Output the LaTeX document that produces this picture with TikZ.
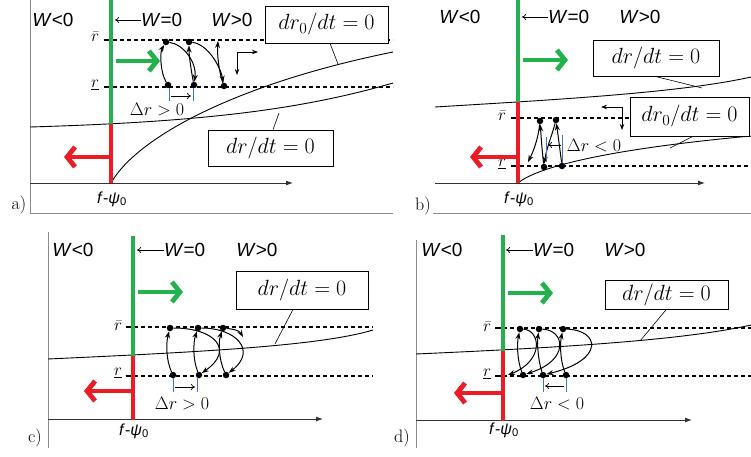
\RequirePackage{fix-cm}
\documentclass[tikz,border=0pt]{standalone}
\usepackage{fontspec}
\setsansfont{Liberation Sans}
\usetikzlibrary{arrows.meta}
\definecolor{grn}{RGB}{34,177,76}
\definecolor{rd}{RGB}{237,28,36}
\definecolor{blu}{RGB}{68,114,196}
\definecolor{frm}{RGB}{140,140,140}
\begin{document}
\begin{tikzpicture}[x=1pt,y=-1pt,
  frame/.style={draw=frm,line width=0.8pt},
  axis/.style={draw=black!80,line width=0.9pt,-{Latex[length=7pt,width=5pt]}},
  gline/.style={draw=grn,line width=4.2pt},
  rline/.style={draw=rd,line width=4.2pt},
  garr/.style={draw=grn,line width=4.8pt,-{Straight Barb[length=8pt,width=20pt]}},
  rarr/.style={draw=rd,line width=4.8pt,-{Straight Barb[length=8pt,width=20pt]}},
  dline/.style={draw=black,line width=1.1pt,dash pattern=on 4pt off 3pt},
  tick/.style={draw=black,line width=1.8pt},
  curve/.style={draw=black,line width=0.9pt},
  lead/.style={draw=black,line width=0.6pt},
  traj/.style={draw=black,line width=1pt,-{Stealth[length=7pt,width=5pt]}},
  thinarr/.style={draw=black,line width=0.7pt,-{To[length=4pt,width=6pt]}},
  corner/.style={draw=black,line width=0.8pt,-{Stealth[length=6pt,width=4.5pt]}},
  bluetk/.style={draw=blu,line width=1pt},
  dotn/.style={circle,fill=black,inner sep=0pt,minimum size=6.5pt},
  wlab/.style={font=\sffamily\fontsize{19}{20}\selectfont,inner sep=0pt},
  mbox/.style={draw=black,line width=0.7pt,fill=white,font=\fontsize{22}{24}\selectfont,inner sep=0pt},
  dlab/.style={font=\fontsize{18}{20}\selectfont,inner sep=0pt},
  rlab/.style={font=\fontsize{17}{18}\selectfont,inner sep=0pt},
  flab/.style={font=\sffamily\fontsize{16}{18}\selectfont,inner sep=0pt},
  plab/.style={font=\fontsize{18}{20}\selectfont,inner sep=0pt}]
\path[use as bounding box] (0,0) rectangle (751,457);

% ================= panel a =================
\coordinate (aF1) at (30,0); \coordinate (aF2) at (30,213); \coordinate (aF3) at (393,213);
\draw[frame] (aF1) -- (aF2) -- (aF3);
\coordinate (aAx1) at (30,183); \coordinate (aAx2) at (293,183);
\draw[axis] (aAx1) -- (aAx2);
\coordinate (aT1) at (104,40); \coordinate (aT2) at (113,40); \coordinate (aT3) at (393,40);
\coordinate (aB1) at (104,87); \coordinate (aB2) at (113,87); \coordinate (aB3) at (393,87);
\draw[dline] (aT2) -- (aT3);
\draw[dline] (aB2) -- (aB3);
\draw[tick] (aT1) -- (aT2);
\draw[tick] (aB1) -- (aB2);
\node[rlab] (aRb) at (95,37) {$\bar r$};
\node[rlab] (aRu) at (95,85) {$\underline{r}$};
\coordinate (aC1) at (30,127); \coordinate (aC2) at (393,83);
\draw[curve] (aC1) .. controls (200,122) and (300,110) .. (aC2);
\coordinate (aO) at (111,183); \coordinate (aD2) at (393,52);
\draw[curve] (aO) .. controls (135,140) and (230,85) .. (aD2);
\coordinate (aG0) at (111,0); \coordinate (aG1) at (111,124);
\draw[gline] (aG0) -- (aG1);
\draw[rline] (aG1) -- (aO);
\coordinate (aGa1) at (116,61); \coordinate (aGa2) at (160,61);
\draw[garr] (aGa1) -- (aGa2);
\coordinate (aRa1) at (109,157); \coordinate (aRa2) at (64,157);
\draw[rarr] (aRa1) -- (aRa2);
\node[wlab] (aWn) at (53,20) {\textit{W}<0};
\node[wlab,anchor=west] (aWz) at (141,20) {\textit{W}=0};
\coordinate (aWa) at (115,20);
\draw[thinarr] (aWz.west) -- (aWa);
\node[wlab] (aWp) at (232,20) {\textit{W}>0};
\node[mbox,minimum width=123pt,minimum height=37pt] (aBox0) at (326.5,24.5) {$dr_0/dt = 0$};
\node[mbox,minimum width=125pt,minimum height=36pt] (aBox1) at (270.5,148) {$dr/dt = 0$};
\coordinate (aL0) at (338,64); \coordinate (aL1) at (279,113);
\draw[lead] (aBox0.south -| 330,0) -- (aL0);
\draw[lead] (aBox1.north -| 273,0) -- (aL1);
\node[dotn] (aA1) at (168,85) {}; \node[dotn] (aU1) at (166,42) {};
\node[dotn] (aA2) at (194,85) {}; \node[dotn] (aU2) at (189,42) {};
\node[dotn] (aA3) at (224,86) {};
\coordinate (aE) at (218,41);
\draw[traj] (aA1) .. controls (160,72) and (160,52) .. (aU1);
\draw[traj] (aU1) .. controls (183,44) and (197,62) .. (aA2);
\draw[traj] (aA2) .. controls (191,70) and (189,55) .. (aU2);
\draw[traj] (aU2) .. controls (207,44) and (220,65) .. (aA3);
\draw[traj] (aA3) .. controls (219,72) and (217,55) .. (aE);
\coordinate (aq1) at (169,88); \coordinate (aq2) at (169,101);
\coordinate (aq3) at (193,88); \coordinate (aq4) at (193,101);
\draw[bluetk] (aq1) -- (aq2); \draw[bluetk] (aq3) -- (aq4);
\coordinate (aqa) at (171,96); \coordinate (aqb) at (191,96);
\draw[thinarr] (aqa) -- (aqb);
\node[dlab] (aDr) at (157,110) {$\Delta r > 0$};
\coordinate (aK) at (237,52); \coordinate (aK1) at (237,75); \coordinate (aK2) at (258,52);
\draw[corner] (aK) -- (aK1); \draw[corner] (aK) -- (aK2);
\node[flab] (aF) at (112,199) {\textit{f}-\textit{ψ}\textsubscript{0}};
\node[plab] (aP) at (19,205) {a)};

% ================= panel b =================
\coordinate (bF1) at (433,213); \coordinate (bF2) at (751,213);
\draw[frame] (bF1) -- (bF2);
\coordinate (bAx1) at (435,183); \coordinate (bAx2) at (705,183);
\draw[axis] (bAx1) -- (bAx2);
\coordinate (bT1) at (511,118); \coordinate (bT2) at (520,118); \coordinate (bT3) at (630,118);
\coordinate (bB1) at (511,166); \coordinate (bB2) at (520,166); \coordinate (bB3) at (751,166);
\draw[dline] (bT2) -- (bT3);
\draw[dline] (bB2) -- (bB3);
\draw[tick] (bT1) -- (bT2);
\draw[tick] (bB1) -- (bB2);
\node[rlab] (bRb) at (502,116) {$\bar r$};
\node[rlab] (bRu) at (502,164) {$\underline{r}$};
\coordinate (bC1) at (435,107); \coordinate (bC2) at (751,77);
\draw[curve] (bC1) .. controls (550,100) and (680,93) .. (bC2);
\coordinate (bO) at (518,183); \coordinate (bD2) at (751,136);
\draw[curve] (bO) .. controls (540,165) and (620,148) .. (bD2);
\coordinate (bG0) at (518,0); \coordinate (bG1) at (518,102);
\draw[gline] (bG0) -- (bG1);
\draw[rline] (bG1) -- (bO);
\coordinate (bGa1) at (523,60); \coordinate (bGa2) at (568,60);
\draw[garr] (bGa1) -- (bGa2);
\coordinate (bRa1) at (516,157); \coordinate (bRa2) at (470,157);
\draw[rarr] (bRa1) -- (bRa2);
\node[wlab] (bWn) at (460,17) {\textit{W}<0};
\node[wlab,anchor=west] (bWz) at (548,17) {\textit{W}=0};
\coordinate (bWa) at (522,17);
\draw[thinarr] (bWz.west) -- (bWa);
\node[wlab] (bWp) at (640,17) {\textit{W}>0};
\node[mbox,minimum width=126pt,minimum height=36pt] (bBox1) at (656,58) {$dr/dt = 0$};
\node[mbox,minimum width=119pt,minimum height=39pt] (bBox0) at (689.5,116.5) {$dr_0/dt = 0$};
\coordinate (bL1) at (702,88); \coordinate (bL0) at (670,148);
\draw[lead] (bBox1.south -| 655,0) -- (bL1);
\draw[lead] (bBox0.south -| 693,0) -- (bL0);
\node[dotn] (bA1) at (544,167) {}; \node[dotn] (bA2) at (562,166) {};
\node[dotn] (bU1) at (540,121) {}; \node[dotn] (bU2) at (556,120) {};
\coordinate (bE) at (528,162);
\draw[traj] (bA2) .. controls (560,150) and (558,135) .. (bU2);
\draw[traj] (bU2) .. controls (552,135) and (546,150) .. (bA1);
\draw[traj] (bA1) .. controls (542,150) and (541,135) .. (bU1);
\draw[traj] (bU1) .. controls (538,140) and (533,152) .. (bE);
\coordinate (bq1) at (546,137); \coordinate (bq2) at (546,162);
\coordinate (bq3) at (562,135); \coordinate (bq4) at (562,163);
\draw[bluetk] (bq1) -- (bq2); \draw[bluetk] (bq3) -- (bq4);
\coordinate (bqa) at (561,145); \coordinate (bqb) at (548,145);
\draw[thinarr] (bqa) -- (bqb);
\node[dlab] (bDr) at (594,146) {$\Delta r < 0$};
\coordinate (bK) at (622,107); \coordinate (bK1) at (622,130); \coordinate (bK2) at (601,107);
\draw[corner] (bK) -- (bK1); \draw[corner] (bK) -- (bK2);
\node[flab] (bF) at (519,199) {\textit{f}-\textit{ψ}\textsubscript{0}};
\node[plab] (bP) at (423,206) {b)};

% ================= panel c =================
\coordinate (cF1) at (48,232); \coordinate (cF2) at (48,448);
\draw[frame] (cF1) -- (cF2);
\coordinate (cAx1) at (48,419); \coordinate (cAx2) at (323,419);
\draw[axis] (cAx1) -- (cAx2);
\coordinate (cT1) at (126,327); \coordinate (cT2) at (134,327); \coordinate (cT3) at (373,327);
\coordinate (cB1) at (126,376); \coordinate (cB2) at (134,376); \coordinate (cB3) at (373,376);
\draw[dline] (cT2) -- (cT3);
\draw[dline] (cB2) -- (cB3);
\draw[tick] (cT1) -- (cT2);
\draw[tick] (cB1) -- (cB2);
\node[rlab] (cRb) at (118,326) {$\bar r$};
\node[rlab] (cRu) at (118,373) {$\underline{r}$};
\coordinate (cC1) at (48,359); \coordinate (cC2) at (373,330);
\draw[curve] (cC1) .. controls (200,352) and (320,346) .. (cC2);
\coordinate (cO) at (133,420); \coordinate (cG0) at (133,236); \coordinate (cG1) at (133,356);
\draw[gline] (cG0) -- (cG1);
\draw[rline] (cG1) -- (cO);
\coordinate (cGa1) at (138,292); \coordinate (cGa2) at (183,292);
\draw[garr] (cGa1) -- (cGa2);
\coordinate (cRa1) at (131,391); \coordinate (cRa2) at (84,391);
\draw[rarr] (cRa1) -- (cRa2);
\node[wlab] (cWn) at (73,250) {\textit{W}<0};
\node[wlab,anchor=west] (cWz) at (164,250) {\textit{W}=0};
\coordinate (cWa) at (137,250);
\draw[thinarr] (cWz.west) -- (cWa);
\node[wlab] (cWp) at (257,250) {\textit{W}>0};
\node[mbox,minimum width=132pt,minimum height=38pt] (cBox1) at (302,290) {$dr/dt = 0$};
\coordinate (cL1) at (275,344);
\draw[lead] (cBox1.south -| 293,0) -- (cL1);
\node[dotn] (cU1) at (170,328) {}; \node[dotn] (cU2) at (198,328) {}; \node[dotn] (cU3) at (223,328) {};
\node[dotn] (cA1) at (173,375) {}; \node[dotn] (cA2) at (199,375) {}; \node[dotn] (cA3) at (226,375) {};
\coordinate (cE) at (243,337);
\draw[traj] (cA1) .. controls (166,360) and (166,343) .. (cU1);
\draw[traj] (cU1) .. controls (215,328) and (235,350) .. (cA2);
\draw[traj] (cA2) .. controls (193,360) and (193,343) .. (cU2);
\draw[traj] (cU2) .. controls (235,328) and (258,350) .. (cA3);
\draw[traj] (cA3) .. controls (219,360) and (218,343) .. (cU3);
\draw[traj] (cU3) .. controls (232,329) and (239,330) .. (cE);
\coordinate (cq1) at (173,378); \coordinate (cq2) at (173,392);
\coordinate (cq3) at (197,378); \coordinate (cq4) at (197,392);
\draw[bluetk] (cq1) -- (cq2); \draw[bluetk] (cq3) -- (cq4);
\coordinate (cqa) at (175,387); \coordinate (cqb) at (195,387);
\draw[thinarr] (cqa) -- (cqb);
\node[dlab] (cDr) at (182,404) {$\Delta r > 0$};
\node[flab] (cF) at (134,431) {\textit{f}-\textit{ψ}\textsubscript{0}};
\node[plab] (cP) at (35,438) {c)};

% ================= panel d =================
\coordinate (dF1) at (416,240); \coordinate (dF2) at (416,448);
\draw[frame] (dF1) -- (dF2);
\coordinate (dAx1) at (416,420); \coordinate (dAx2) at (692,420);
\draw[axis] (dAx1) -- (dAx2);
\coordinate (dT1) at (495,328); \coordinate (dT2) at (503,328); \coordinate (dT3) at (751,328);
\coordinate (dB1) at (495,376); \coordinate (dB2) at (503,376); \coordinate (dB3) at (751,376);
\draw[dline] (dT2) -- (dT3);
\draw[dline] (dB2) -- (dB3);
\draw[tick] (dT1) -- (dT2);
\draw[tick] (dB1) -- (dB2);
\node[rlab] (dRb) at (487,327) {$\bar r$};
\node[rlab] (dRu) at (487,374) {$\underline{r}$};
\coordinate (dC1) at (416,354); \coordinate (dC2) at (751,325);
\draw[curve] (dC1) .. controls (550,348) and (680,341) .. (dC2);
\coordinate (dO) at (503,421); \coordinate (dG0) at (503,235); \coordinate (dG1) at (503,351);
\draw[gline] (dG0) -- (dG1);
\draw[rline] (dG1) -- (dO);
\coordinate (dGa1) at (508,293); \coordinate (dGa2) at (553,293);
\draw[garr] (dGa1) -- (dGa2);
\coordinate (dRa1) at (501,393); \coordinate (dRa2) at (454,393);
\draw[rarr] (dRa1) -- (dRa2);
\node[wlab] (dWn) at (442,250) {\textit{W}<0};
\node[wlab,anchor=west] (dWz) at (533,250) {\textit{W}=0};
\coordinate (dWa) at (506,250);
\draw[thinarr] (dWz.west) -- (dWa);
\node[wlab] (dWp) at (625,250) {\textit{W}>0};
\node[mbox,minimum width=123pt,minimum height=29pt] (dBox1) at (666.5,295) {$dr/dt = 0$};
\coordinate (dL1) at (640,341);
\draw[lead] (dBox1.south -| 666,0) -- (dL1);
\node[dotn] (dU1) at (520,329) {}; \node[dotn] (dU2) at (539,329) {}; \node[dotn] (dU3) at (563,329) {};
\node[dotn] (dA1) at (523,375) {}; \node[dotn] (dA2) at (543,375) {}; \node[dotn] (dA3) at (566,375) {};
\coordinate (dE) at (508,375);
\draw[traj] (dA3) .. controls (560,360) and (560,343) .. (dU3);
\draw[traj] (dU3) .. controls (600,330) and (605,360) .. (dA2);
\draw[traj] (dA2) .. controls (538,360) and (537,343) .. (dU2);
\draw[traj] (dU2) .. controls (565,330) and (570,360) .. (dA1);
\draw[traj] (dA1) .. controls (517,360) and (517,343) .. (dU1);
\draw[traj] (dU1) .. controls (540,330) and (545,360) .. (dE);
\coordinate (dq1) at (543,378); \coordinate (dq2) at (543,392);
\coordinate (dq3) at (566,378); \coordinate (dq4) at (566,392);
\draw[bluetk] (dq1) -- (dq2); \draw[bluetk] (dq3) -- (dq4);
\coordinate (dqa) at (564,386); \coordinate (dqb) at (545,386);
\draw[thinarr] (dqa) -- (dqb);
\node[dlab] (dDr) at (557,404) {$\Delta r < 0$};
\node[flab] (dF) at (504,430) {\textit{f}-\textit{ψ}\textsubscript{0}};
\node[plab] (dP) at (402,438) {d)};
\end{tikzpicture}
\end{document}
